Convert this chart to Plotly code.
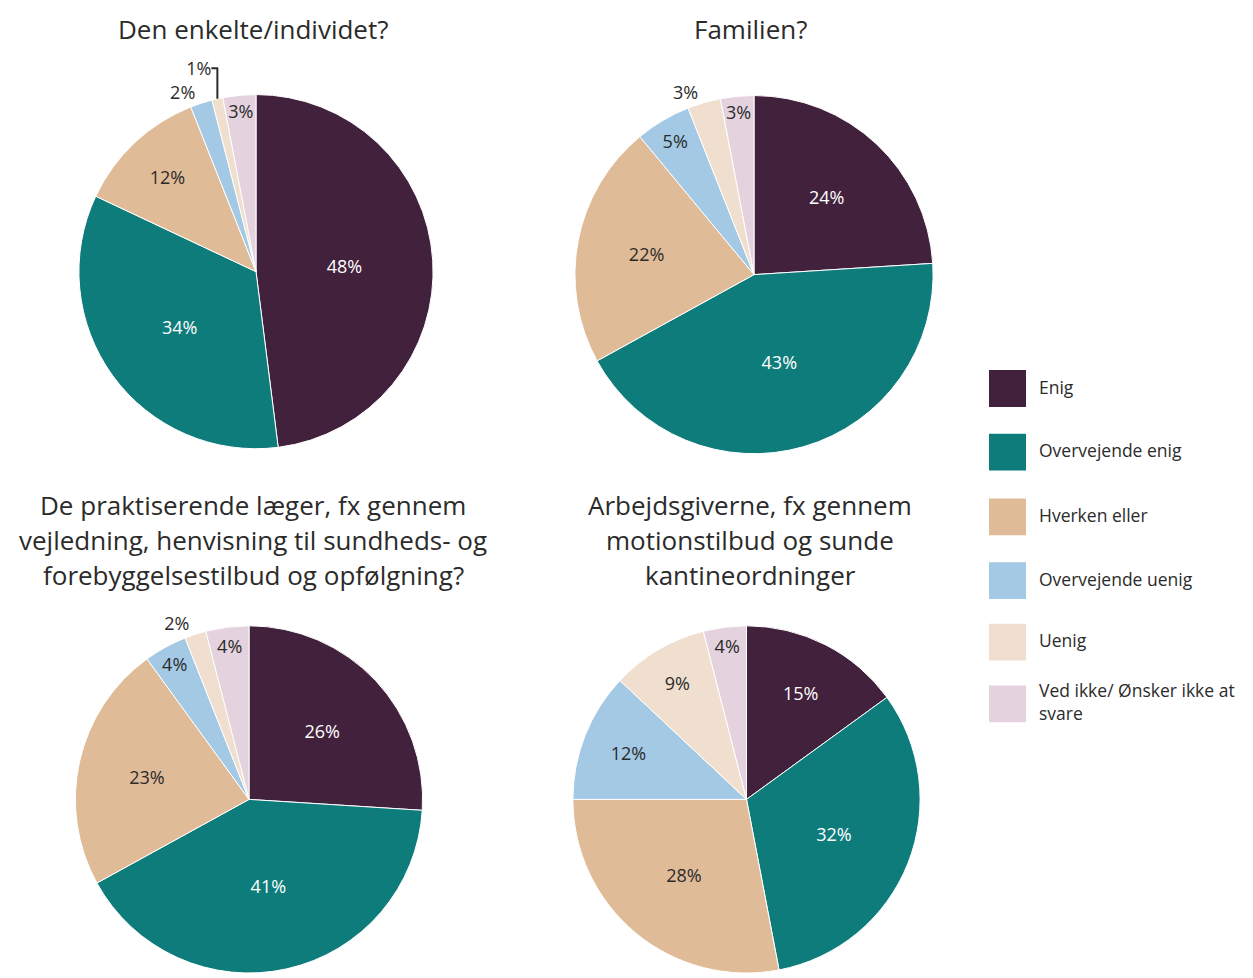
import plotly.graph_objects as go

OFF = 8  # default page body margin
W, H = 1253 - OFF, 978 - OFF

categories = ["Enig", "Overvejende enig", "Hverken eller", "Overvejende uenig",
              "Uenig", "Ved ikke/ Ønsker ikke at svare"]
legend_labels = ["Enig", "Overvejende enig", "Hverken eller", "Overvejende uenig",
                 "Uenig", "Ved ikke/ Ønsker ikke at<br>svare"]
colors = ["#42213D", "#0E7C7B", "#E0BB98", "#A3C9E5", "#F0DFCE", "#E4D3DE"]

titles = [
    ["Den enkelte/individet?"],
    ["Familien?"],
    ["De praktiserende læger, fx gennem",
     "vejledning, henvisning til sundheds- og",
     "forebyggelsestilbud og opfølgning?"],
    ["Arbejdsgiverne, fx gennem",
     "motionstilbud og sunde",
     "kantineordninger"],
]

individet = [48, 34, 12, 2, 1, 3]
familien = [24, 43, 22, 5, 3, 3]
laeger = [26, 41, 23, 4, 2, 4]
arbejdsgivere = [15, 32, 28, 12, 9, 4]
series = [individet, familien, laeger, arbejdsgivere]

positions = [
    ["inside", "inside", "inside", "outside", "outside", "inside"],
    ["inside", "inside", "inside", "inside", "outside", "inside"],
    ["inside", "inside", "inside", "inside", "outside", "inside"],
    ["inside", "inside", "inside", "inside", "inside", "inside"],
]


def px(x):
    return (x - OFF) / W


def py(y):
    return 1 - (y - OFF) / H


# screen pixel boxes (x0, x1, ytop, ybottom)
boxes = [
    (78, 434, 95, 451),
    (574, 934, 96, 456),
    (73, 425, 629, 978),
    (571, 922, 629, 978),
]

FONT = "Open Sans"
TXT = "#2b2b2b"
text_colors = ["white", "white", TXT, TXT, TXT, TXT]

fig = go.Figure()
for vals, pos, (x0, x1, yt, yb) in zip(series, positions, boxes):
    fig.add_trace(go.Pie(
        labels=categories,
        values=vals,
        sort=False,
        direction="clockwise",
        rotation=0,
        text=[f"{v}%" for v in vals],
        textinfo="text",
        textposition=pos,
        insidetextorientation="horizontal",
        insidetextfont=dict(color=text_colors, size=18, family=FONT),
        outsidetextfont=dict(color=TXT, size=18, family=FONT),
        marker=dict(colors=colors, line=dict(color="white", width=1)),
        domain=dict(x=[px(x0), px(x1)], y=[max(0, py(yb)), py(yt)]),
        hoverinfo="label+percent",
        showlegend=False,
    ))

annotations = []
title_centers = [(253, 29), (750, 29), (253, 508), (750, 508)]
for lines, (cx, cy) in zip(titles, title_centers):
    for i, line in enumerate(lines):
        annotations.append(dict(
            x=px(cx), y=py(cy + 35 * i), xref="paper", yref="paper",
            text=line, showarrow=False, xanchor="center", yanchor="middle",
            font=dict(size=26, color=TXT, family=FONT),
        ))

shapes = []
leg_y = [390.5, 454.5, 519.5, 583.5, 645.5, 707.5]
for lab, col, y in zip(legend_labels, colors, leg_y):
    shapes.append(dict(
        type="rect", xref="paper", yref="paper",
        x0=px(989), x1=px(1026), y0=py(y + 18.5), y1=py(y - 18.5),
        fillcolor=col, line=dict(width=0),
    ))
    annotations.append(dict(
        x=px(1037), y=py(y - 2), xref="paper", yref="paper",
        text=lab, showarrow=False, xanchor="left", yanchor="middle",
        align="left",
        font=dict(size=17.5, color=TXT, family=FONT),
    ))

fig.update_layout(
    width=W, height=H,
    margin=dict(l=0, r=0, t=0, b=0),
    paper_bgcolor="white",
    plot_bgcolor="white",
    annotations=annotations,
    shapes=shapes,
    uniformtext=dict(minsize=18, mode="show"),
)

fig.write_html("out.html")
